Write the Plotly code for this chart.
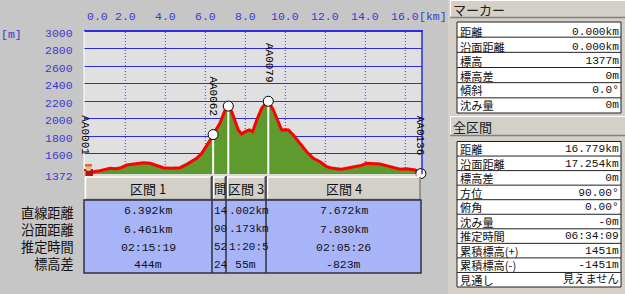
import plotly.graph_objects as go

W, H = 625, 294

# ---------------- data ----------------
dist_km = [0.00, 0.24, 0.50, 0.74, 1.00, 1.24, 1.50, 1.74, 2.07, 2.40, 2.65, 2.90, 3.24, 3.57, 3.90,
           4.24, 4.50, 4.74, 5.07, 5.32, 5.57, 5.82, 6.07, 6.25, 6.392, 6.55, 6.73, 6.99, 7.15, 7.32,
           7.49, 7.65, 7.82, 7.99, 8.20, 8.37, 8.57, 8.82, 9.00, 9.15, 9.40, 9.65, 9.82, 10.00, 10.15,
           10.40, 10.74, 11.07, 11.40, 11.74, 12.07, 12.30, 12.57, 12.80, 13.07, 13.30, 13.57, 13.80,
           14.07, 14.40, 14.74, 15.00, 15.24, 15.50, 15.74, 16.07, 16.30, 16.49, 16.65, 16.779]
elev_m = [1377, 1391, 1400, 1410, 1425, 1437, 1432, 1440, 1474, 1486, 1495, 1501, 1494, 1471, 1444,
          1437, 1440, 1444, 1482, 1512, 1551, 1608, 1690, 1760, 1821, 1880, 1949, 2101, 2145, 2081,
          1967, 1873, 1827, 1854, 1873, 1854, 1987, 2120, 2170, 2200, 2101, 1967, 1873, 1876, 1873,
          1816, 1721, 1626, 1551, 1512, 1455, 1440, 1432, 1425, 1437, 1445, 1455, 1470,
          1494, 1488, 1486, 1470, 1455, 1440, 1426, 1432, 1425, 1418, 1400, 1377]

marker_dist = [0.0, 6.392, 7.15, 9.15, 16.779]
marker_elev = [1377, 1821, 2145, 2200, 1377]
label_names = ["AA0001", "AA0062", "AA0079", "AA0136"]
label_dist = [0.0, 6.392, 9.15, 16.779]
label_elev = [1377, 1821, 2200, 1377]

x_ticks = [0, 2, 4, 6, 8, 10, 12, 14, 16]
x_tick_text = ["0.0", "2.0", "4.0", "6.0", "8.0", "10.0", "12.0", "14.0", "16.0"]
y_ticks = [1372, 1600, 1800, 2000, 2200, 2400, 2600, 2800, 3000]
y_tick_text = ["1372", "1600", "1800", "2000", "2200", "2400", "2600", "2800", "3000"]
y_min, y_max = 1372, 3000

section_headers = ["区間 1", "間", "区間 3", "区間 4"]
row_labels = ["直線距離", "沿面距離", "推定時間", "標高差"]
sec1_vals = ["6.392km", "6.461km", "02:15:19", "444m"]
sec2_vals = ["14", "90", "52", "24"]
sec3_vals = [".002km", ".173km", "1:20:5", "55m"]
sec4_vals = ["7.672km", "7.830km", "02:05:26", "-823m"]

marker_panel_title = "マーカー"
marker_labels = ["距離", "沿面距離", "標高", "標高差", "傾斜", "沈み量"]
marker_values = ["0.000km", "0.000km", "1377m", "0m", "0.0°", "0m"]
total_panel_title = "全区間"
total_labels = ["距離", "沿面距離", "標高差", "方位", "俯角", "沈み量", "推定時間",
                "累積標高(+)", "累積標高(-)", "見通し"]
total_values = ["16.779km", "17.254km", "0m", "90.00°", "0.00°", "-0m", "06:34:09",
                "1451m", "-1451m", "見えません"]

# ---------------- styles ----------------
BG = "#c6c6c6"
PANEL = "#d4d0c8"
PLOT_BG = "#e0e0e0"
BLUE = "#2c2ce0"
AXIS_TXT = "#3a3ad0"
GREEN = "#5e9a2e"
RED = "#ff0000"
TABLE_BLUE = "#a8b4f8"
MONO = "Liberation Mono"
JP = "Noto Sans CJK JP"

PL, PR, PT, PB = 84, 422, 31, 174
PX_PER_KM = 20.0
X0_PX = 85.3


def px(x):
    return x / W


def py(y):
    return 1 - y / H


fig = go.Figure()

fig.add_trace(go.Scatter(x=dist_km, y=elev_m, mode="lines",
                         line=dict(color=RED, width=3), fill="tozeroy",
                         fillcolor=GREEN, hoverinfo="skip", showlegend=False))

vx, vy = [], []
for d, e in zip(marker_dist[1:-1], marker_elev[1:-1]):
    vx += [d, d, None]
    vy += [y_min, e, None]
fig.add_trace(go.Scatter(x=vx, y=vy, mode="lines", line=dict(color="white", width=2),
                         hoverinfo="skip", showlegend=False))
fig.add_trace(go.Scatter(x=marker_dist[1:], y=marker_elev[1:], mode="markers",
                         marker=dict(size=10, color="white", line=dict(color="black", width=1)),
                         hoverinfo="skip", showlegend=False, cliponaxis=False))

shapes = []
ann = []

# vertical dotted grid (below traces)
for v in x_ticks[1:]:
    shapes.append(dict(type="line", xref="x", yref="paper", x0=v, x1=v,
                       y0=py(PB), y1=py(PT), line=dict(color="#3434ff", width=1, dash="1px,2px"),
                       layer="below"))


def rect(x0, y0, x1, y1, fill, line=None, lw=0):
    shapes.append(dict(type="rect", xref="paper", yref="paper",
                       x0=px(x0), x1=px(x1), y0=py(y1), y1=py(y0),
                       fillcolor=fill, line=dict(color=line or fill, width=lw), layer="above"))


def hline(x0, x1, y, color, w=1):
    shapes.append(dict(type="line", xref="paper", yref="paper", x0=px(x0), x1=px(x1),
                       y0=py(y), y1=py(y), line=dict(color=color, width=w), layer="above"))


def vline(x, y0, y1, color, w=1):
    shapes.append(dict(type="line", xref="paper", yref="paper", x0=px(x), x1=px(x),
                       y0=py(y0), y1=py(y1), line=dict(color=color, width=w), layer="above"))


def text(t, x, y, size=12, color="#101010", family=MONO, xanchor="center", **kw):
    ann.append(dict(text=t, x=px(x), y=py(y), xref="paper", yref="paper", showarrow=False,
                    font=dict(size=size, color=color, family=family), xanchor=xanchor,
                    yanchor="middle", borderpad=0, **kw))


# plot frame
hline(PL, PR + 1, PT, BLUE, 2)
vline(PR, PT, PB, BLUE, 1.5)
vline(PL, PT, PB + 2, "white", 1)
hline(PL, PR, PB + 1, "#f0f0f0", 1)

# axis labels
for v, t in zip(x_ticks, x_tick_text):
    ann.append(dict(text=t, x=v, y=py(17), xref="x", yref="paper", showarrow=False,
                    xshift=12 if v == 0 else 0, borderpad=0,
                    font=dict(size=11.5, color=AXIS_TXT, family=MONO), xanchor="center",
                    yanchor="middle"))
text("[km]", 433, 17, 11.5, AXIS_TXT)
text("[m]", 11, 34, 11.5, AXIS_TXT)
for v, t in zip(y_ticks, y_tick_text):
    ann.append(dict(text=t, x=px(74), y=v, xref="paper", yref="y", showarrow=False,
                    yshift=-2, borderpad=0, font=dict(size=11.5, color=AXIS_TXT, family=MONO),
                    xanchor="right", yanchor="middle"))

# marker labels (rotated)
for name, d, e in zip(label_names, label_dist, label_elev):
    ann.append(dict(text=name, x=d, y=e, xref="x", yref="y", showarrow=False, textangle=90,
                    yshift=38, borderpad=0, font=dict(size=11, color="black", family=MONO),
                    xanchor="center", yanchor="middle"))

# hiker icon
rect(84, 169, 93, 177, "#a81818")
shapes.append(dict(type="circle", xref="paper", yref="paper", x0=px(85.5), x1=px(91.5),
                   y0=py(171), y1=py(165), fillcolor="#f0b880", line=dict(width=0), layer="above"))
rect(85, 164, 92, 166.5, "#d07030")
rect(85, 177, 88, 183, "#4a3418")
rect(89, 177, 92, 183, "#4a3418")
rect(83.5, 171, 85.5, 176, "#f0b880")

# section table
cols = [84, 212, 226, 266, 421]
rect(84, 176, 421, 200, PANEL)
rect(84, 200, 421, 273, TABLE_BLUE)
for a, b in zip(cols[:-1], cols[1:]):
    hline(a + 1, b - 1, 177, "white", 1.5)
    vline(a + 1.5, 177, 200, "white", 1.5)
    hline(a + 1, b - 1, 199.5, "#808080", 1.5)
    vline(b - 1, 177, 200, "#808080", 1.5)
for c in cols[1:-1]:
    vline(c, 176, 273, "#303040", 1.5)
shapes.append(dict(type="rect", xref="paper", yref="paper", x0=px(84), x1=px(421),
                   y0=py(273), y1=py(200), line=dict(color="#303040", width=1.5), layer="above"))
text(section_headers[0], 148, 188, 13, "#101010", JP)
text(section_headers[1], 219.5, 188, 12, "#101010", JP)
text(section_headers[2], 246, 188, 13, "#101010", JP)
text(section_headers[3], 343.5, 188, 13, "#101010", JP)
row_y = [210.7, 229, 247, 264.7]
ann.append(dict(text="<br>".join(row_labels), x=px(75), y=py(sum(row_y) / len(row_y) + 0.5),
                xref="paper", yref="paper", showarrow=False, align="right", xanchor="right",
                yanchor="middle", borderpad=0, font=dict(size=13.2, color="#101010", family=JP)))
for i, y in enumerate(row_y):
    text(sec1_vals[i], 148, y, 11.5)
    text(sec2_vals[i], 212.5, y, 11, xanchor="left")
    if i < 3:
        text(sec3_vals[i], 227.5, y, 11, xanchor="left")
    else:
        text(sec3_vals[i], 245, y, 11.5)
    text(sec4_vals[i], 343.5, y, 11.5)

# right panel
rect(448, 0, 625, 294, PANEL)
PANEL_FS = 11.2  # plotly line spacing is 1.3 em -> ~14.6 px per row


def panel(title, y0, y1, rows, labels, values):
    rect(450, y0, 625, y1, PANEL)
    hline(450, 625, y0 + 0.5, "white", 1)
    vline(450.5, y0, y1, "white", 1)
    hline(450, 625, y1 - 0.5, "#808080", 1.5)
    text(title, 452, (y0 + y1) / 2, 13, "#202020", JP, xanchor="left")
    n = len(labels)
    top, bot = rows
    rh = (bot - top) / n
    rect(457, top, 621, bot, "white")
    for k in range(n + 1):
        hline(457, 621, top + k * rh, "#202020", 1)
    vline(457, top, bot, "#202020", 1)
    vline(621, top, bot, "#202020", 1)
    cy = (top + bot) / 2 + 0.5
    ann.append(dict(text="<br>".join(labels), x=px(459), y=py(cy), xref="paper", yref="paper",
                    showarrow=False, align="left", xanchor="left", yanchor="middle", borderpad=0,
                    font=dict(size=PANEL_FS, color="#101010", family=JP)))
    ann.append(dict(text="<br>".join(values), x=px(620), y=py(cy), xref="paper", yref="paper",
                    showarrow=False, align="right", xanchor="right", yanchor="middle", borderpad=0,
                    font=dict(size=PANEL_FS, color="#101010", family=MONO + ", " + JP)))


panel(marker_panel_title, 0, 18, (22, 113), marker_labels, marker_values)
panel(total_panel_title, 116, 136, (141.5, 287), total_labels, total_values)

fig.update_layout(
    width=W, height=H, margin=dict(l=0, r=0, t=0, b=0),
    paper_bgcolor=BG, plot_bgcolor=PLOT_BG, showlegend=False,
    xaxis=dict(domain=[px(PL), px(PR)],
               range=[(PL - X0_PX) / PX_PER_KM, (PR - X0_PX) / PX_PER_KM],
               showticklabels=False, ticks="", showgrid=False,
               zeroline=False, showline=False, fixedrange=True),
    yaxis=dict(domain=[py(PB), py(PT)], range=[y_min, y_max],
               tickvals=y_ticks[1:-1], showticklabels=False, ticks="", showgrid=True,
               gridcolor=BLUE, gridwidth=1, zeroline=False, showline=False, fixedrange=True),
    shapes=shapes, annotations=ann,
)

fig.write_html("out.html")
